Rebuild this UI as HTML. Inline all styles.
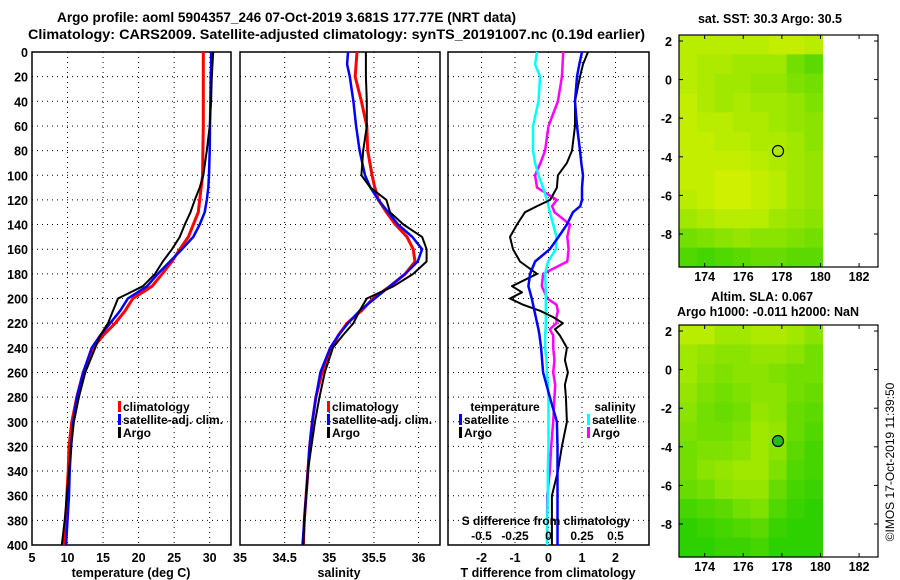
<!DOCTYPE html>
<html><head><meta charset="utf-8"><style>
body{margin:0;background:#fff;}
svg{display:block;font-family:"Liberation Sans",sans-serif;font-weight:bold;}
</style></head><body>
<svg id="fig" width="900" height="580" viewBox="0 0 900 580" xmlns="http://www.w3.org/2000/svg">
<rect width="900" height="580" fill="#fff"/>
<text x="57" y="22" font-size="13.5" textLength="459" lengthAdjust="spacingAndGlyphs">Argo profile: aoml 5904357_246 07-Oct-2019 3.681S 177.77E (NRT data)</text>
<text x="28" y="39" font-size="14" textLength="617" lengthAdjust="spacingAndGlyphs">Climatology: CARS2009. Satellite-adjusted climatology: synTS_20191007.nc (0.19d earlier)</text>
<text x="770" y="23" font-size="12.5" text-anchor="middle">sat. SST: 30.3 Argo: 30.5</text>
<text x="762" y="301" font-size="12.5" text-anchor="middle">Altim. SLA: 0.067</text>
<text x="768" y="316" font-size="12.5" text-anchor="middle">Argo h1000: -0.011 h2000: NaN</text>
<text transform="translate(894,462) rotate(-90)" font-size="12" font-weight="normal" text-anchor="middle">©IMOS 17-Oct-2019 11:39:50</text>
<g id="plots"></g>
</svg>
<script>
// ---- data ----
const depths = [0,10,20,40,60,80,100,110,120,130,140,150,160,170,180,190,200,210,220,230,240,260,280,300,320,340,360,380,400];
const tempArgo = [30.5,30.4,30.3,30.2,30.0,29.6,29.1,28.6,27.9,27.3,26.5,25.8,24.7,23.4,22.3,20.6,17.1,16.4,15.7,14.6,13.9,12.5,11.6,10.9,10.5,10.2,9.9,9.6,9.2];
const tempClim = [29.1,29.1,29.1,29.1,29.1,29.05,29.0,28.8,28.6,28.4,27.7,27.0,25.8,24.7,23.3,21.9,19.2,18.1,16.7,15.0,13.6,12.2,11.3,10.6,10.2,10.1,9.9,9.8,9.5];
const tempSat = [30.2,30.2,30.15,30.1,30.05,30.0,29.9,29.8,29.6,29.3,28.6,27.7,26.1,24.4,22.7,21.2,18.5,17.4,16.0,14.6,13.4,12.2,11.3,10.8,10.5,10.3,10.2,10.0,9.8];
const salArgo = [35.41,35.41,35.41,35.42,35.42,35.38,35.36,35.46,35.64,35.68,35.83,36.04,36.09,36.09,35.94,35.72,35.42,35.34,35.27,35.15,35.04,34.95,34.89,34.84,34.80,34.76,34.74,34.72,34.71];
const salClim = [35.31,35.30,35.29,35.36,35.42,35.43,35.48,35.51,35.55,35.64,35.74,35.87,35.94,35.96,35.85,35.68,35.49,35.36,35.20,35.10,35.03,34.92,34.85,34.81,34.78,34.76,34.74,34.72,34.71];
const salSat = [35.21,35.20,35.23,35.27,35.30,35.34,35.40,35.46,35.55,35.66,35.77,35.93,36.04,35.99,35.85,35.68,35.51,35.34,35.21,35.10,35.01,34.90,34.85,34.81,34.78,34.76,34.74,34.72,34.70];
const diffDepths = [0,10,20,40,60,80,90,100,110,120,125,130,140,150,160,170,180,190,195,200,205,210,215,220,225,230,240,250,260,270,280,300,320,340,360,380,400];
const dTArgo = [1.18,1.03,0.94,0.79,0.79,0.70,0.55,0.28,0.25,0.05,-0.34,-0.70,-0.94,-1.15,-1.06,-0.85,-0.34,-1.09,-0.79,-1.15,-0.76,-0.25,0.13,0.43,0.19,0.34,0.55,0.49,0.58,0.49,0.52,0.55,0.40,0.28,0.10,0.10,0.10];
const dTSat = [1.0,0.92,0.85,0.79,0.85,0.94,0.98,1.03,1.0,1.0,0.95,0.73,0.55,0.30,0.04,-0.40,-0.55,-0.60,-0.55,-0.50,-0.46,-0.42,-0.38,-0.34,-0.30,-0.27,-0.22,-0.19,-0.16,-0.06,0.04,0.25,0.27,0.27,0.27,0.27,0.27];
const dSSat = [-0.086,-0.10,-0.063,-0.075,-0.116,-0.116,-0.10,-0.075,-0.04,-0.012,0.0,0.01,0.035,0.06,0.055,-0.003,-0.025,-0.022,-0.02,-0.02,-0.02,-0.02,-0.02,-0.02,-0.022,-0.025,-0.025,-0.015,-0.012,-0.005,0.0,0.0,0.0,-0.005,-0.005,-0.01,-0.01];
const dSArgo = [0.11,0.105,0.10,0.07,0.0,-0.025,-0.06,-0.10,-0.086,0.063,0.027,0.045,0.16,0.14,0.15,0.14,-0.04,-0.05,-0.03,-0.01,0.06,0.07,0.06,0.06,0.01,0.035,0.035,0.045,0.035,0.05,0.045,0.035,0.02,0.01,-0.01,-0.01,-0.01];
const depthTicks = [0,20,40,60,80,100,120,140,160,180,200,220,240,260,280,300,320,340,360,380,400];
const tempTicks = [5,10,15,20,25,30];
const salTicks = [34,34.5,35,35.5,36];
const salTickLabels = ["34","34.5","35","35.5","36"];
const dTTicks = [-2,-1,0,1,2];
const dSTicks = [-0.5,-0.25,0,0.25,0.5];
const dSTickLabels = ["-0.5","-0.25","0","0.25","0.5"];
const latTicks = [2,0,-2,-4,-6,-8];
const lonTicks = [174,176,178,180,182];
const sstGrid = [
[.8,.8,.8,.8,.8,.85,.85,.8],[.8,.75,.75,.7,.7,.7,.5,.4],[.8,.75,.7,.7,.65,.65,.55,.5],[.85,.75,.7,.75,.7,.7,.65,.55],
[.85,.8,.8,.75,.75,.7,.65,.6],[.85,.85,.8,.8,.75,.75,.7,.6],[.85,.85,.85,.85,.8,.75,.7,.65],[.85,.85,.9,.9,.85,.8,.7,.65],
[.8,.85,.9,.9,.85,.8,.7,.65],[.7,.75,.8,.8,.8,.7,.65,.6],[.5,.55,.6,.65,.6,.6,.55,.5],[.35,.3,.35,.4,.45,.45,.4,.4]];
const slaGrid = [
[.8,.8,.7,.7,.75,.75,.7,.6],[.7,.65,.6,.6,.65,.65,.6,.5],[.7,.6,.55,.6,.6,.55,.5,.5],[.65,.55,.5,.55,.6,.6,.5,.45],
[.6,.5,.45,.5,.65,.6,.45,.4],[.55,.5,.5,.55,.7,.65,.45,.35],[.5,.55,.55,.6,.7,.6,.4,.3],[.5,.6,.65,.7,.7,.55,.35,.3],
[.45,.5,.6,.65,.65,.45,.3,.25],[.3,.35,.4,.5,.55,.35,.25,.2],[.2,.25,.3,.35,.4,.25,.2,.2],[.2,.2,.25,.25,.3,.2,.2,.2]];
const floatLon = 177.8, floatLat = -3.7;

// ---- drawing ----
const NS="http://www.w3.org/2000/svg";
const root=document.getElementById('plots');
function mk(tag,attrs,parent){const e=document.createElementNS(NS,tag);for(const k in attrs)e.setAttribute(k,attrs[k]);(parent||root).appendChild(e);return e;}
const Y0=52,Y1=545;
const yDepth=d=>Y0+(d/400)*(Y1-Y0);
const xT=v=>32+(v-5)*(199/28);
const xS=v=>240+(v-34)*(200/2.24);
const xD=v=>548.5+v*33.5;
const xDS=v=>548.5+v*134;

function panel(name,x0,x1,gridX){
  const g=mk('g',{});
  
  
  depthTicks.slice(1,-1).forEach(d=>{const l=mk('line',{x1:x0,x2:x1,y1:yDepth(d),y2:yDepth(d),stroke:'#000','stroke-width':1,'stroke-dasharray':'1,4'},g);
    });
  gridX.forEach(x=>{const l=mk('line',{x1:x,x2:x,y1:Y0,y2:Y1,stroke:'#000','stroke-width':1,'stroke-dasharray':'1,4'},g);
    });
  const r=mk('rect',{x:x0,y:Y0,width:x1-x0,height:Y1-Y0,fill:'none',stroke:'#000','stroke-width':1.5},g);
  
  return g;
}
function series(name,xs,ds,fx,color,w){
  const pts=xs.map((v,i)=>fx(v).toFixed(1)+','+yDepth(ds[i]).toFixed(1)).join(' ');
  const p=mk('polyline',{points:pts,fill:'none',stroke:color,'stroke-width':w,'stroke-linejoin':'round'});
  
}
function text(name,x,y,s,size,anchor){
  const t=mk('text',{x:x,y:y,'font-size':size||12.5,'text-anchor':anchor||'middle'});t.textContent=s;
  return t;
}
function legend(name,x,y,color,label){
  const r=mk('rect',{x:x,y:y-10,width:3,height:11,fill:color});
  
  text(name+'-label',x+5,y,label,12,'start');
}

// panel 1 temperature
panel('temperature-panel',32,231,tempTicks.slice(1).map(xT));
series('temp-climatology-line',tempClim,depths,xT,'#f00',3);
series('temp-satellite-line',tempSat,depths,xT,'#00f',2.5);
series('temp-argo-line',tempArgo,depths,xT,'#000',2);
depthTicks.forEach(d=>text('depth-tick-label',28,yDepth(d)+5,String(d),12.5,'end'));
tempTicks.forEach(v=>text('temp-tick-label',xT(v),562,String(v)));
text('temp-axis-title',131,577,'temperature (deg C)');
text('temp-tick-label-35',240,562,'35');
legend('legend-climatology',118,411,'#f00','climatology');
legend('legend-satellite-adj',118,424,'#00f','satellite-adj. clim.');
legend('legend-argo',118,437,'#000','Argo');

// panel 2 salinity
panel('salinity-panel',240,440,salTicks.slice(1).map(xS));
series('sal-climatology-line',salClim,depths,xS,'#f00',3);
series('sal-satellite-line',salSat,depths,xS,'#00f',2.5);
series('sal-argo-line',salArgo,depths,xS,'#000',2);
salTicks.forEach((v,i)=>{if(i>0)text('sal-tick-label',xS(v),562,salTickLabels[i]);});
text('sal-axis-title',339,577,'salinity');
legend('legend-sal-climatology',327,411,'#f00','climatology');
legend('legend-sal-satellite-adj',327,424,'#00f','satellite-adj. clim.');
legend('legend-sal-argo',327,437,'#000','Argo');

// panel 3 differences
panel('difference-panel',448,649,dTTicks.map(xD));
series('dS-argo-line',dSArgo,diffDepths,xDS,'#f0f',2.5);
series('dS-satellite-line',dSSat,diffDepths,xDS,'#0ff',2.5);
series('dT-argo-line',dTArgo,diffDepths,xD,'#000',2);
series('dT-satellite-line',dTSat,diffDepths,xD,'#00f',2.5);
dTTicks.forEach(v=>text('dT-tick-label',xD(v),562,String(v)));
text('dT-axis-title',548,577,'T difference from climatology');
text('dS-axis-title',546,525,'S difference from climatology',12);
dSTicks.forEach((v,i)=>text('dS-tick-label',xDS(v),540,dSTickLabels[i],12));
text('legend-temperature-heading',505,411,'temperature',12);
legend('legend-dT-satellite',459,424,'#00f','satellite');
legend('legend-dT-argo',459,437,'#000','Argo');
text('legend-salinity-heading',615,411,'salinity',12);
legend('legend-dS-satellite',587,424,'#0ff','satellite');
legend('legend-dS-argo',587,437,'#f0f','Argo');

// maps
function colorOf(v){const r=Math.round(230*v),g=Math.round(200+45*v);return `rgb(${r},${g},0)`;}
function map(name,grid,top,filled){
  const X0=679,X1=878,H=232,Y=top;
  const lonX=l=>X0+(l-172.67)*19.3;
  const latY=l=>Y+6+(2-l)*19.3;
  const g=mk('g',{});
  
  const cw=(lonX(180.1)-X0)/grid[0].length, ch=H/grid.length;
  grid.forEach((row,ri)=>row.forEach((v,ci)=>{
    const c=mk('rect',{x:(X0+ci*cw).toFixed(2),y:(Y+ri*ch).toFixed(2),width:(cw+0.6).toFixed(2),height:(ch+0.6).toFixed(2),fill:colorOf(v)},g);
    
  }));
  const fr=mk('rect',{x:X0,y:Y,width:X1-X0,height:H,fill:'none',stroke:'#000','stroke-width':1.2},g);
  
  latTicks.forEach(l=>{
    const yy=latY(l);
    mk('line',{x1:X0,x2:X0+4,y1:yy,y2:yy,stroke:'#000'},g);
    mk('line',{x1:X1-4,x2:X1,y1:yy,y2:yy,stroke:'#000'},g);
    text('map-lat-label',X0-7,yy+5,String(l),12.5,'end');
  });
  lonTicks.forEach(l=>{
    const xx=lonX(l);
    mk('line',{x1:xx,x2:xx,y1:Y,y2:Y+4,stroke:'#000'},g);
    mk('line',{x1:xx,x2:xx,y1:Y+H-4,y2:Y+H,stroke:'#000'},g);
    text('map-lon-label',xx,Y+H+14,String(l),12.5);
  });
  const c=mk('circle',{cx:lonX(floatLon),cy:latY(floatLat),r:5.5,fill:filled?'#22bb22':'none',stroke:'#000','stroke-width':1.2},g);
  
}
map('sst-map',sstGrid,35,false);
map('sla-map',slaGrid,325,true);
</script>
</body></html>
